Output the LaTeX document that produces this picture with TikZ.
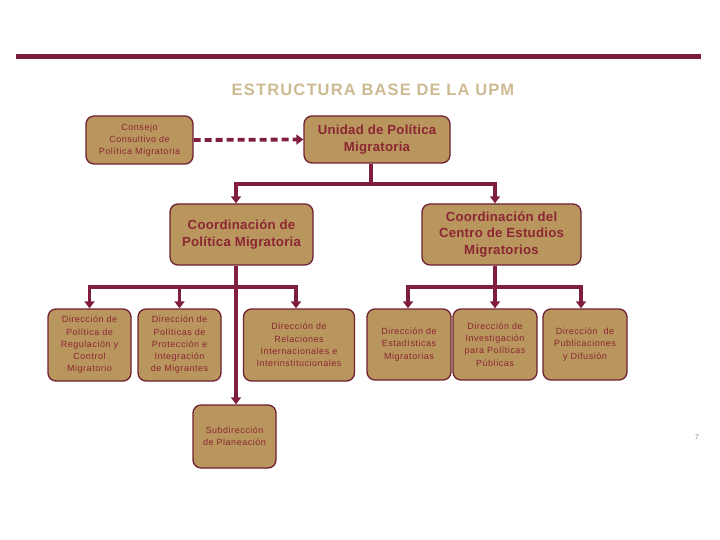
\documentclass[tikz,border=0pt]{standalone}
\usepackage{fontspec}
\setmainfont{Liberation Sans}
\usetikzlibrary{arrows.meta,calc}
\definecolor{barc}{RGB}{122,28,62}
\definecolor{linec}{RGB}{128,30,64}
\definecolor{boxfill}{RGB}{184,150,94}
\definecolor{boxdraw}{RGB}{110,32,48}
\definecolor{txt}{RGB}{140,38,50}
\definecolor{titlec}{RGB}{204,186,146}
\tikzset{
  box/.style={draw=boxdraw, line width=1.3pt, fill=boxfill, rounded corners=8pt,
    align=center, text=txt, inner sep=1pt},
  smalltxt/.style={font=\fontsize{9}{12.3}\selectfont\addfontfeature{LetterSpace=6}},
  constxt/.style={font=\fontsize{9}{12}\selectfont\addfontfeature{LetterSpace=6}},
  bigtxt/.style={font=\fontsize{13.2}{16.5}\selectfont\bfseries\addfontfeature{LetterSpace=2}},
  conn/.style={draw=linec, line width=3.3pt},
  arr/.style={conn, -{Triangle[width=10pt,length=7pt]}},
}
\begin{document}
\begin{tikzpicture}[x=1pt,y=-1pt]
\useasboundingbox (0,0) rectangle (720,540);
% top bar
\draw[barc, line width=5pt] (16,57) -- (701,57);
% title
\node[text=titlec, font=\fontsize{16.5}{20}\selectfont\bfseries\addfontfeature{LetterSpace=7}] (title) at (373,90) {ESTRUCTURA BASE DE LA UPM};
% boxes
\node[box, constxt, minimum width=107pt, minimum height=48pt] (cons) at (139.5,140) {Consejo\\Consultivo de\\Política Migratoria};
\node[box, bigtxt, minimum width=146pt, minimum height=47pt] (upm) at (377,139.5) {Unidad de Política\\Migratoria};
\node[box, bigtxt, minimum width=143pt, minimum height=61pt] (cpm) at (241.5,234.5) {Coordinación de\\Política Migratoria};
\node[box, bigtxt, minimum width=159pt, minimum height=61pt] (cem) at (501.5,234.5) {Coordinación del\\Centro de Estudios\\Migratorios};
\node[box, smalltxt, minimum width=83pt, minimum height=72pt] (d1) at (89.5,345) {Dirección de\\Política de\\Regulación y\\Control\\Migratorio};
\node[box, smalltxt, minimum width=83pt, minimum height=72pt] (d2) at (179.5,345) {Dirección de\\Políticas de\\Protección e\\Integración\\de Migrantes};
\node[box, smalltxt, minimum width=111pt, minimum height=72pt] (d3) at (299,345) {Dirección de\\Relaciones\\Internacionales e\\Interinstitucionales};
\node[box, smalltxt, minimum width=84pt, minimum height=71pt] (d4) at (409,344.5) {Dirección de\\Estadísticas\\Migratorias};
\node[box, smalltxt, minimum width=84pt, minimum height=71pt] (d5) at (495,344.5) {Dirección de\\Investigación\\para Políticas\\Públicas};
\node[box, smalltxt, minimum width=84pt, minimum height=71pt] (d6) at (585,344.5) {Dirección\ \ de\\Publicaciones\\y Difusión};
\node[box, smalltxt, minimum width=83pt, minimum height=63pt] (sub) at (234.5,436.5) {Subdirección\\de Planeación};
% page number
\node[text=gray, font=\fontsize{7}{8}\selectfont] (pg) at (697,437) {7};
% connectors
\draw[arr, line width=3.8pt, dash pattern=on 7pt off 4pt] (cons.east) -- (upm.west);
\coordinate (j1) at (371,184);
\draw[conn] ([xshift=-6pt]upm.south) -- (j1);
\draw[arr] (j1) -| ([xshift=-5.5pt]cpm.north);
\draw[arr] (j1) -| ([xshift=-6.5pt]cem.north);
\coordinate (j2) at (236,287);
\draw[arr] ([xshift=-5.5pt]cpm.south) -- ([xshift=1.5pt]sub.north);
\draw[arr] (j2) -| (d1.north);
\draw[arr] (j2) -| (d2.north);
\draw[arr] (j2) -| ([xshift=-3pt]d3.north);
\coordinate (j3) at (495,287);
\draw[conn] ([xshift=-6.5pt]cem.south) -- (j3);
\draw[arr] (j3) -| ([xshift=-1pt]d4.north);
\draw[arr] (j3) -- (d5.north);
\draw[arr] (j3) -| ([xshift=-4pt]d6.north);
\end{tikzpicture}
\end{document}
